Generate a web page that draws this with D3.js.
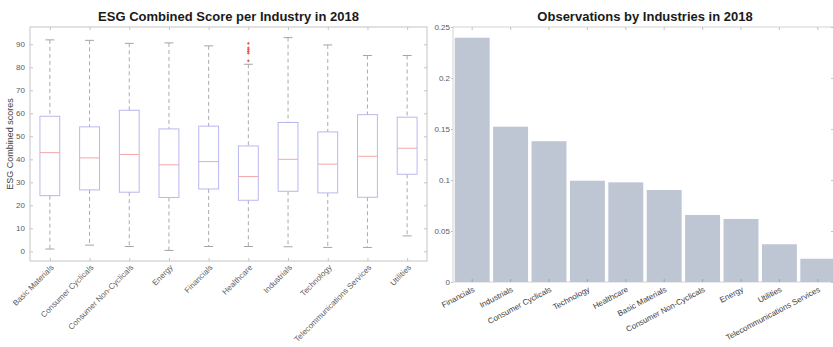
<!DOCTYPE html>
<html>
<head>
<meta charset="utf-8">
<script src="https://cdn.jsdelivr.net/npm/d3@7"></script>
<style>
  html, body { margin: 0; padding: 0; background: #fff; }
  svg { display: block; font-family: "Liberation Sans", Arial, Helvetica, sans-serif; }
</style>
</head>
<body>
<svg id="chart" width="833" height="347"></svg>
<script>
// ---------- Data: left panel (box plot) ----------
const boxIndustries = ["Basic Materials", "Consumer Cyclicals", "Consumer Non-Cyclicals", "Energy",
  "Financials", "Healthcare", "Industrials", "Technology", "Telecommunications Services", "Utilities"];
const boxQ1       = [24.2, 26.7, 25.7, 23.4, 27.1, 22.2, 26.1, 25.4, 23.5, 33.5];
const boxMedian   = [42.9, 40.6, 42.1, 37.6, 39.0, 32.5, 40.0, 37.9, 41.3, 44.8];
const boxQ3       = [58.7, 54.1, 61.3, 53.2, 54.4, 45.8, 56.0, 51.9, 59.4, 58.3];
const whiskerLow  = [1.0, 2.7, 2.1, 0.4, 2.1, 2.1, 2.0, 1.7, 1.7, 6.7];
const whiskerHigh = [91.9, 91.7, 90.4, 90.6, 89.3, 81.3, 92.9, 89.7, 85.1, 85.1];
const outlierIndustry = ["Healthcare", "Healthcare", "Healthcare", "Healthcare", "Healthcare", "Healthcare"];
const outlierValue    = [90.4, 88.4, 87.6, 86.8, 86.1, 82.8];
const boxYTicks = [0, 10, 20, 30, 40, 50, 60, 70, 80, 90];

// ---------- Data: right panel (bar chart) ----------
const barIndustries = ["Financials", "Industrials", "Consumer Cyclicals", "Technology", "Healthcare",
  "Basic Materials", "Consumer Non-Cyclicals", "Energy", "Utilities", "Telecommunications Services"];
const barShare = [0.2395, 0.1523, 0.138, 0.0993, 0.0977, 0.0902, 0.0657, 0.0618, 0.037, 0.0228];
const barYTicks = [0, 0.05, 0.1, 0.15, 0.2, 0.25];

const svg = d3.select("#chart");
const frameColor = "#c4c4c4";
const labelColor = "#5a5a5a";

function styleAxis(g) {
  g.select(".domain").remove();
  g.selectAll(".tick line").attr("stroke", frameColor);
  g.selectAll(".tick text").attr("fill", labelColor).attr("font-size", 8);
}

// ================= LEFT PANEL =================
const L = { left: 30, right: 427, top: 27, bottom: 261 };
const xBox = d3.scalePoint().domain(boxIndustries).range([L.left, L.right]).padding(0.5);
const yBox = d3.scaleLinear().domain([-4.2, 97.5]).range([L.bottom, L.top]);
const boxW = xBox.step() * 0.5;
const capW = boxW * 0.45;

const left = svg.append("g");

left.append("text")
  .attr("x", (L.left + L.right) / 2).attr("y", 21)
  .attr("text-anchor", "middle").attr("font-size", 13).attr("font-weight", "bold").attr("fill", "#1a1a1a")
  .text("ESG Combined Score per Industry in 2018");

left.append("text")
  .attr("transform", `translate(13,${(L.top + L.bottom) / 2}) rotate(-90)`)
  .attr("text-anchor", "middle").attr("font-size", 9).attr("fill", "#444")
  .text("ESG Combined scores");

left.append("g").attr("transform", `translate(${L.left},0)`)
  .call(d3.axisLeft(yBox).tickValues(boxYTicks).tickSizeInner(-3).tickSizeOuter(0).tickPadding(5))
  .call(styleAxis);
left.append("g").attr("transform", `translate(${L.right},0)`)
  .call(d3.axisRight(yBox).tickValues(boxYTicks).tickSizeInner(-3).tickSizeOuter(0).tickFormat(""))
  .call(styleAxis);
left.append("g").attr("transform", `translate(0,${L.top})`)
  .call(d3.axisTop(xBox).tickSizeInner(-3).tickSizeOuter(0).tickFormat(""))
  .call(styleAxis);
const lxAxis = left.append("g").attr("transform", `translate(0,${L.bottom})`)
  .call(d3.axisBottom(xBox).tickSizeInner(-3).tickSizeOuter(0))
  .call(styleAxis);
lxAxis.selectAll(".tick text")
  .attr("text-anchor", "end").attr("dy", 0).attr("y", 0).attr("fill", "#606060")
  .attr("transform", "translate(4,7) rotate(-45)");

left.append("rect")
  .attr("x", L.left).attr("y", L.top).attr("width", L.right - L.left).attr("height", L.bottom - L.top)
  .attr("fill", "none").attr("stroke", frameColor).attr("stroke-width", 1);

const boxes = left.append("g").selectAll("g").data(boxIndustries).join("g");
// whiskers (dashed)
boxes.append("line")
  .attr("x1", d => xBox(d)).attr("x2", d => xBox(d))
  .attr("y1", (d, i) => yBox(whiskerHigh[i])).attr("y2", (d, i) => yBox(boxQ3[i]))
  .attr("stroke", "#acacac").attr("stroke-dasharray", "4,3");
boxes.append("line")
  .attr("x1", d => xBox(d)).attr("x2", d => xBox(d))
  .attr("y1", (d, i) => yBox(boxQ1[i])).attr("y2", (d, i) => yBox(whiskerLow[i]))
  .attr("stroke", "#acacac").attr("stroke-dasharray", "4,3");
// caps
boxes.append("line")
  .attr("x1", d => xBox(d) - capW / 2).attr("x2", d => xBox(d) + capW / 2)
  .attr("y1", (d, i) => yBox(whiskerHigh[i])).attr("y2", (d, i) => yBox(whiskerHigh[i]))
  .attr("stroke", "#a4a4a4");
boxes.append("line")
  .attr("x1", d => xBox(d) - capW / 2).attr("x2", d => xBox(d) + capW / 2)
  .attr("y1", (d, i) => yBox(whiskerLow[i])).attr("y2", (d, i) => yBox(whiskerLow[i]))
  .attr("stroke", "#a4a4a4");
// box
boxes.append("rect")
  .attr("x", d => xBox(d) - boxW / 2).attr("width", boxW)
  .attr("y", (d, i) => yBox(boxQ3[i])).attr("height", (d, i) => yBox(boxQ1[i]) - yBox(boxQ3[i]))
  .attr("fill", "none").attr("stroke", "#b8b8f0").attr("stroke-width", 1);
// median
boxes.append("line")
  .attr("x1", d => xBox(d) - boxW / 2).attr("x2", d => xBox(d) + boxW / 2)
  .attr("y1", (d, i) => yBox(boxMedian[i])).attr("y2", (d, i) => yBox(boxMedian[i]))
  .attr("stroke", "#f2a8a8").attr("stroke-width", 1);
// outliers (red +)
const outG = left.append("g");
outlierValue.forEach((v, i) => {
  const cx = xBox(outlierIndustry[i]), cy = yBox(v);
  outG.append("path")
    .attr("d", `M${cx - 1.3},${cy}H${cx + 1.3}M${cx},${cy - 1.3}V${cy + 1.3}`)
    .attr("stroke", "#e85050").attr("stroke-width", 1);
});

// ================= RIGHT PANEL =================
const R = { left: 453, right: 837, top: 27, bottom: 282 };
const xBar = d3.scaleBand().domain(barIndustries).range([R.left, R.right]).paddingInner(0.09).paddingOuter(0.045);
const yBar = d3.scaleLinear().domain([0, 0.25]).range([R.bottom, R.top]);

const right = svg.append("g");

right.append("text")
  .attr("x", (R.left + R.right) / 2).attr("y", 21)
  .attr("text-anchor", "middle").attr("font-size", 13).attr("font-weight", "bold").attr("fill", "#1a1a1a")
  .text("Observations by Industries in 2018");

right.append("rect")
  .attr("x", R.left).attr("y", R.top).attr("width", R.right - R.left).attr("height", R.bottom - R.top)
  .attr("fill", "none").attr("stroke", "#d4d4d4").attr("stroke-width", 1);

right.append("g").selectAll("rect").data(barIndustries).join("rect")
  .attr("x", d => xBar(d)).attr("width", xBar.bandwidth())
  .attr("y", (d, i) => yBar(barShare[i])).attr("height", (d, i) => yBar(0) - yBar(barShare[i]))
  .attr("fill", "#bec6d4");

right.append("g").attr("transform", `translate(${R.left},0)`)
  .call(d3.axisLeft(yBar).tickValues(barYTicks).tickSizeInner(2).tickSizeOuter(0).tickPadding(1)
    .tickFormat(d => d === 0 ? "0" : String(+d.toFixed(2))))
  .call(styleAxis);
right.append("g").attr("transform", `translate(${R.right - 3},0)`)
  .call(d3.axisRight(yBar).tickValues(barYTicks).tickSizeInner(-3).tickSizeOuter(0).tickFormat(""))
  .call(styleAxis);
right.append("g").attr("transform", `translate(0,${R.top})`)
  .call(d3.axisTop(xBar).tickSizeInner(-3).tickSizeOuter(0).tickFormat(""))
  .call(styleAxis);
const rxAxis = right.append("g").attr("transform", `translate(0,${R.bottom})`)
  .call(d3.axisBottom(xBar).tickSizeInner(-3).tickSizeOuter(0))
  .call(styleAxis);
rxAxis.selectAll(".tick line").attr("stroke", "#9aa3b3");
rxAxis.selectAll(".tick text")
  .attr("text-anchor", "end").attr("dy", 0).attr("y", 0).attr("fill", "#3a3a3a")
  .attr("transform", "translate(3,9) rotate(-28)");
</script>
</body>
</html>
